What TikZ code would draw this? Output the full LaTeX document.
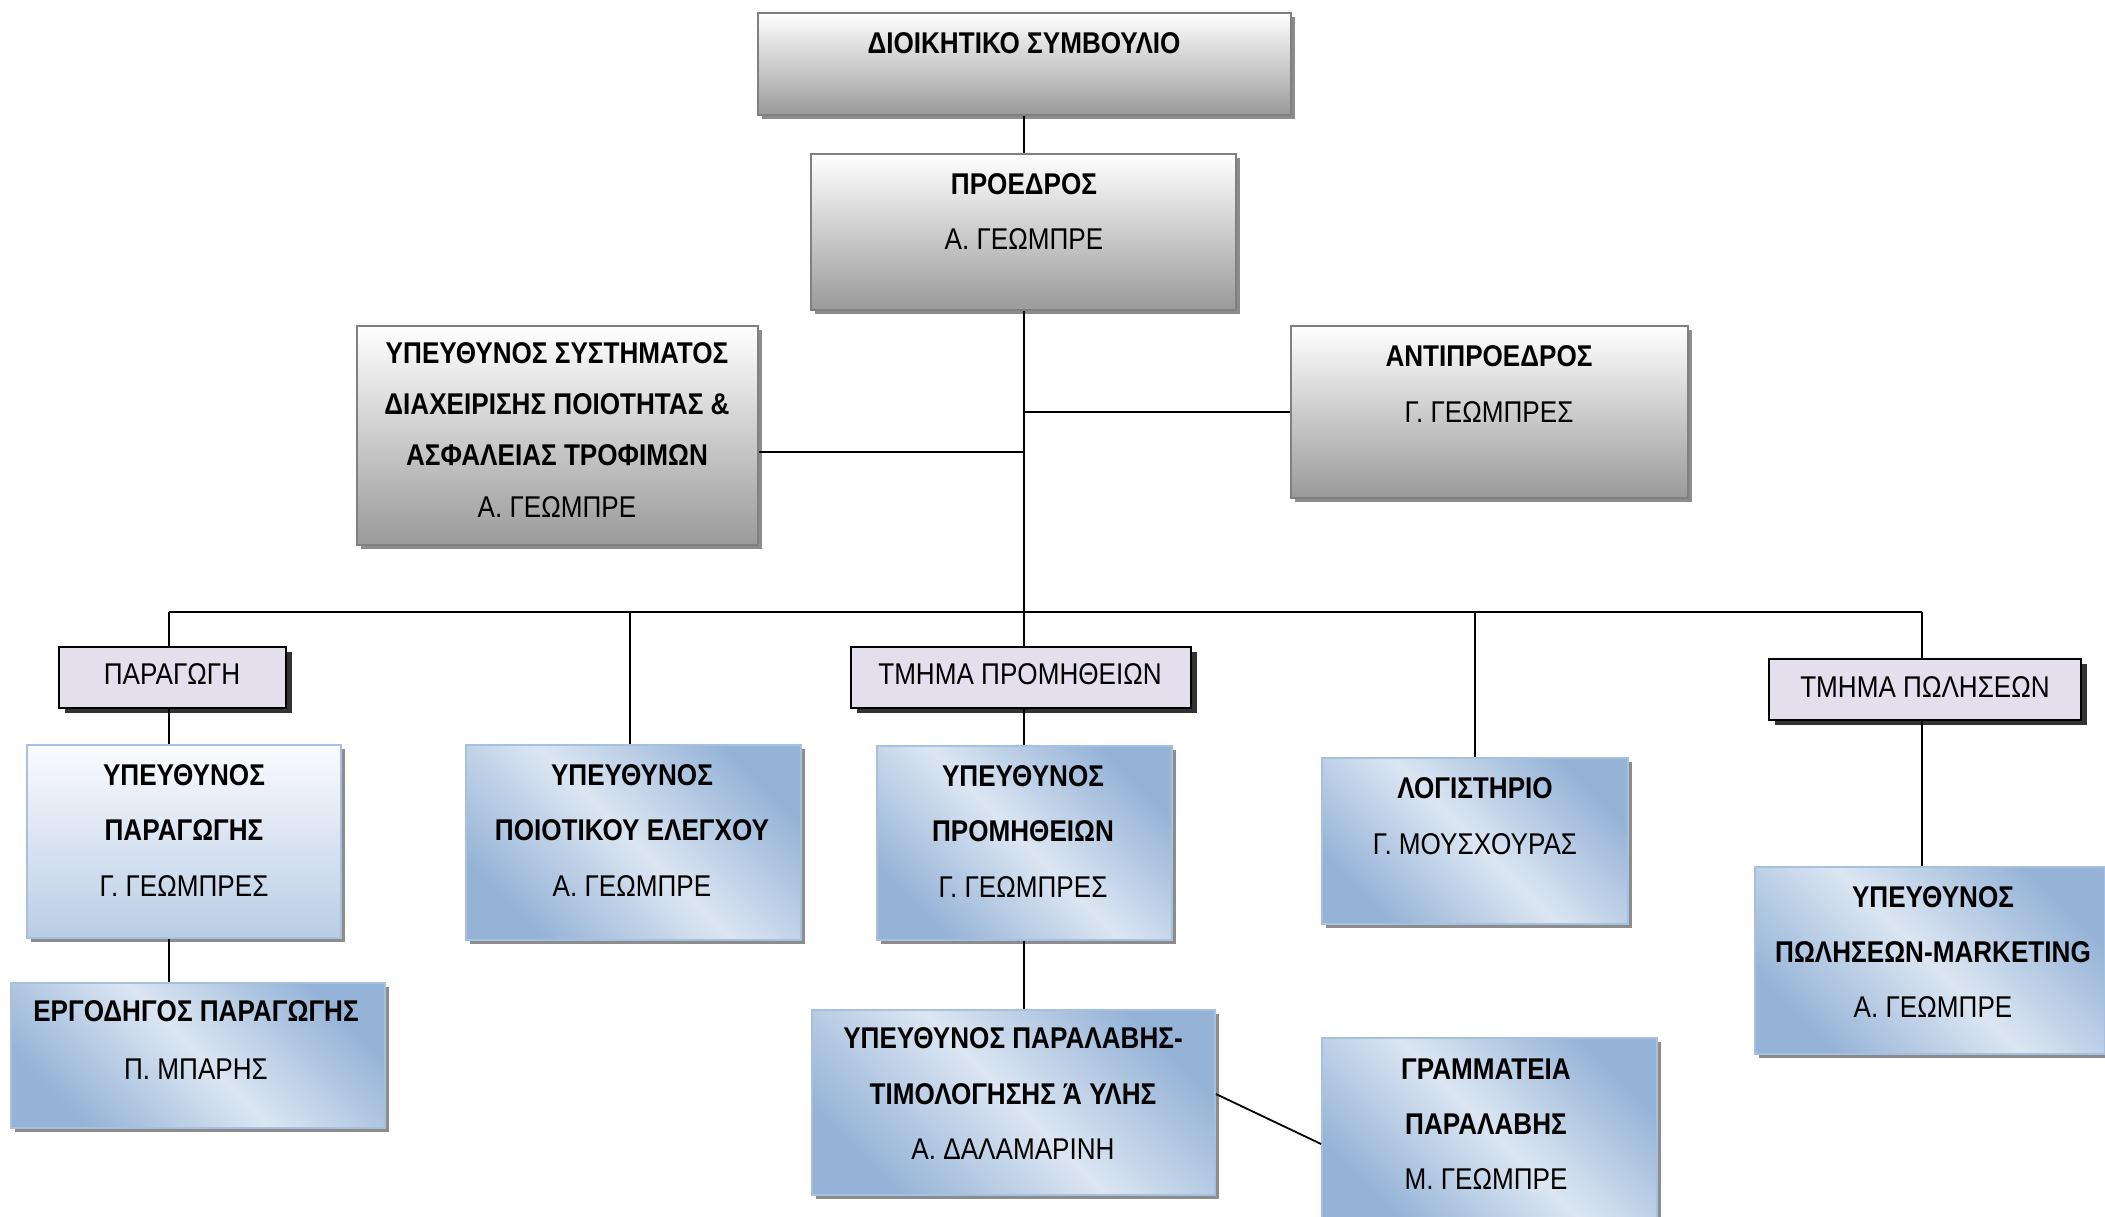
\documentclass[tikz,border=0pt]{standalone}
\usepackage{fontspec}
\setmainfont[FakeStretch=0.87]{Liberation Sans}
\usetikzlibrary{shadows,calc}

\definecolor{grayedge}{HTML}{808080}
\definecolor{graylow}{HTML}{9A9A9A}
\definecolor{bluedark}{HTML}{95B3D7}
\definecolor{bluelight}{HTML}{DCE6F2}
\definecolor{blueedge}{HTML}{A7C0DF}
\definecolor{bluetop}{HTML}{FAFBFE}
\definecolor{bluebot}{HTML}{B9CDE5}
\definecolor{lavender}{HTML}{E4DFEC}

\tikzset{
  graybox/.style={draw=grayedge, line width=1.6pt,
    top color=white, bottom color=graylow,
    drop shadow={shadow xshift=4pt, shadow yshift=-4pt, fill=black!45, opacity=1}},
  bluebox/.style={draw=blueedge, line width=1.8pt,
    top color=bluedark, bottom color=bluedark, middle color=bluelight,
    shading angle=-45,
    drop shadow={shadow xshift=4pt, shadow yshift=-4pt, fill=black!45, opacity=1}},
  blueplain/.style={draw=blueedge, line width=1.8pt,
    top color=bluetop, bottom color=bluebot,
    drop shadow={shadow xshift=4pt, shadow yshift=-4pt, fill=black!45, opacity=1}},
  tagbox/.style={draw=black, line width=2pt, fill=lavender,
    drop shadow={shadow xshift=6pt, shadow yshift=-5pt, fill=black!80, opacity=1}},
  bt/.style={anchor=base, yshift=-10.8pt, inner sep=0pt,
    font=\fontsize{30}{36}\selectfont\bfseries},
  rt/.style={anchor=base, yshift=-10.8pt, inner sep=0pt,
    font=\fontsize{30}{36}\selectfont},
  link/.style={draw=black, line width=1.8pt}
}

\begin{document}
\begin{tikzpicture}[x=1pt, y=-1pt]
\useasboundingbox (0,0) rectangle (2105,1216);

% boxes: centre, width, height
\node[graybox, inner sep=0pt, minimum width=533pt, minimum height=102pt] (b1) at (1024.5,64) {};
\node[graybox, inner sep=0pt, minimum width=425pt, minimum height=156pt] (b2) at (1023.5,232) {};
\node[graybox, inner sep=0pt, minimum width=401pt, minimum height=219pt] (b3) at (557.5,435.5) {};
\node[graybox, inner sep=0pt, minimum width=397pt, minimum height=172pt] (b4) at (1489.5,412) {};

\node[tagbox, inner sep=0pt, minimum width=227pt, minimum height=61pt] (l1) at (172.5,677.5) {};
\node[tagbox, inner sep=0pt, minimum width=340pt, minimum height=61pt] (l2) at (1021,677.5) {};
\node[tagbox, inner sep=0pt, minimum width=312pt, minimum height=61pt] (l3) at (1925,689.5) {};

\node[blueplain, inner sep=0pt, minimum width=314pt, minimum height=193pt] (p1) at (184,841.5) {};
\node[bluebox, inner sep=0pt, minimum width=374pt, minimum height=145pt] (e1) at (198,1055.5) {};
\node[bluebox, inner sep=0pt, minimum width=335pt, minimum height=195pt] (q1) at (633.5,842.5) {};
\node[bluebox, inner sep=0pt, minimum width=295pt, minimum height=194pt] (p2) at (1024.5,843) {};
\node[bluebox, inner sep=0pt, minimum width=403pt, minimum height=185pt] (p3) at (1013.5,1102.5) {};
\node[bluebox, inner sep=0pt, minimum width=306pt, minimum height=166pt] (lg) at (1475,841) {};
\node[bluebox, inner sep=0pt, minimum width=335pt, minimum height=180pt] (g1) at (1489.5,1128) {};
\node[bluebox, inner sep=0pt, minimum width=350pt, minimum height=187pt] (p4) at (1930,960.5) {};

% texts
\node[bt] at (1024,43) {ΔΙΟΙΚΗΤΙΚΟ ΣΥΜΒΟΥΛΙΟ};

\node[bt] at (1024,184) {ΠΡΟΕΔΡΟΣ};
\node[rt] at (1024,239) {Α. ΓΕΩΜΠΡΕ};

\node[bt] at (557,353) {ΥΠΕΥΘΥΝΟΣ ΣΥΣΤΗΜΑΤΟΣ};
\node[bt] at (557,404) {ΔΙΑΧΕΙΡΙΣΗΣ ΠΟΙΟΤΗΤΑΣ \&};
\node[bt] at (557,455) {ΑΣΦΑΛΕΙΑΣ ΤΡΟΦΙΜΩΝ};
\node[rt] at (557,507) {Α. ΓΕΩΜΠΡΕ};

\node[bt] at (1489,356) {ΑΝΤΙΠΡΟΕΔΡΟΣ};
\node[rt] at (1489,412) {Γ. ΓΕΩΜΠΡΕΣ};

\node[rt] at (172,674) {ΠΑΡΑΓΩΓΗ};
\node[rt] at (1020,674) {ΤΜΗΜΑ ΠΡΟΜΗΘΕΙΩΝ};
\node[rt] at (1925,687) {ΤΜΗΜΑ ΠΩΛΗΣΕΩΝ};

\node[bt] at (184,775) {ΥΠΕΥΘΥΝΟΣ};
\node[bt] at (184,830) {ΠΑΡΑΓΩΓΗΣ};
\node[rt] at (184,886) {Γ. ΓΕΩΜΠΡΕΣ};

\node[bt] at (196,1011) {ΕΡΓΟΔΗΓΟΣ ΠΑΡΑΓΩΓΗΣ};
\node[rt] at (196,1069) {Π. ΜΠΑΡΗΣ};

\node[bt] at (632,775) {ΥΠΕΥΘΥΝΟΣ};
\node[bt] at (632,830) {ΠΟΙΟΤΙΚΟΥ ΕΛΕΓΧΟΥ};
\node[rt] at (632,886) {Α. ΓΕΩΜΠΡΕ};

\node[bt] at (1023,776) {ΥΠΕΥΘΥΝΟΣ};
\node[bt] at (1023,831) {ΠΡΟΜΗΘΕΙΩΝ};
\node[rt] at (1023,887) {Γ. ΓΕΩΜΠΡΕΣ};

\node[bt] at (1013,1038) {ΥΠΕΥΘΥΝΟΣ ΠΑΡΑΛΑΒΗΣ-};
\node[bt] at (1013,1094) {ΤΙΜΟΛΟΓΗΣΗΣ Ά ΥΛΗΣ};
\node[rt] at (1013,1149) {Α. ΔΑΛΑΜΑΡΙΝΗ};

\node[bt] at (1475,788) {ΛΟΓΙΣΤΗΡΙΟ};
\node[rt] at (1475,844) {Γ. ΜΟΥΣΧΟΥΡΑΣ};

\node[bt] at (1486,1069) {ΓΡΑΜΜΑΤΕΙΑ};
\node[bt] at (1486,1124) {ΠΑΡΑΛΑΒΗΣ};
\node[rt] at (1486,1179) {Μ. ΓΕΩΜΠΡΕ};

\node[bt] at (1933,897) {ΥΠΕΥΘΥΝΟΣ};
\node[bt] at (1933,952) {ΠΩΛΗΣΕΩΝ-MARKETING};
\node[rt] at (1933,1007) {Α. ΓΕΩΜΠΡΕ};

% connectors
\coordinate (busL) at (169,612);
\coordinate (busR) at (1922,612);
\coordinate (qcol) at (630,612);
\coordinate (pcol) at (1024,612);
\coordinate (lcol) at (1475,612);
\coordinate (qj) at ($(b3.east)+(0,16.5)$);

\draw[link] (b1.south -| pcol) -- (b2.north -| pcol);
\draw[link] (b2.south -| pcol) -- (pcol);
\draw[link] (qj) -- (qj -| pcol);
\draw[link] (b4.west) -- (b4.west -| pcol);
\draw[link] (busL) -- (busR);

\draw[link] (busL) -- (l1.north -| busL);
\draw[link] (l1.south -| busL) -- (p1.north -| busL);
\draw[link] (p1.south -| busL) -- (e1.north -| busL);

\draw[link] (qcol) -- (q1.north -| qcol);

\draw[link] (pcol) -- (l2.north -| pcol);
\draw[link] (l2.south -| pcol) -- (p2.north -| pcol);
\draw[link] (p2.south -| pcol) -- (p3.north -| pcol);
\draw[link] ([yshift=8.5pt]p3.east) -- ([yshift=-16pt]g1.west);

\draw[link] (lcol) -- (lg.north -| lcol);

\draw[link] (busR) -- (l3.north -| busR);
\draw[link] (l3.south -| busR) -- (p4.north -| busR);
\end{tikzpicture}
\end{document}
